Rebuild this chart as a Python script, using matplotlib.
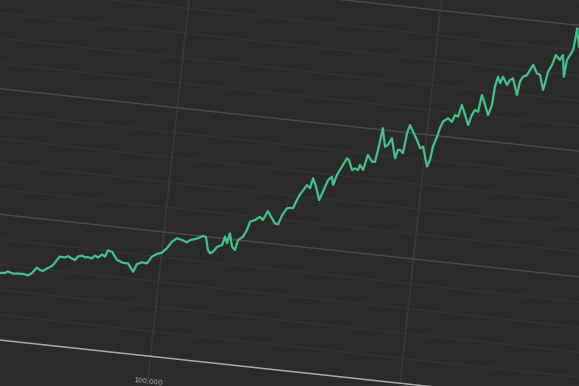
import matplotlib
matplotlib.use("Agg")
import matplotlib.pyplot as plt
from matplotlib.transforms import Affine2D

# hands played (thousands) and winnings
hands_k = [36.8, 38.8, 39.9, 42.0, 44.0, 46.0, 48.0, 49.5, 51.2, 52.5, 53.8, 55.2, 56.4, 57.5, 59.2, 59.9,
           61.9, 63.0, 64.7, 66.0, 67.0, 68.6, 69.8, 71.0, 72.6, 73.7, 75.0, 76.4, 77.7, 78.6,
           80.3, 82.6, 85.1, 87.1, 89.5, 90.7, 92.6, 94.6, 96.3, 98.2, 100.1, 101.9, 103.6, 105.5,
           107.5, 109.6, 110.7, 113.4, 115.7, 116.9,
           118.2, 119.2, 120.3, 121.7, 123.6, 124.4, 125.5, 126.2, 127.6, 128.9, 129.7, 131.5, 132.8,
           133.7, 135.6, 137.4, 138.7, 140.3, 142.2, 143.6, 144.9, 146.1, 147.7, 148.9, 150.1, 151.3,
           152.3, 154.7, 156.0, 156.8, 158.3, 160.1, 161.3, 162.8, 164.2, 165.0, 166.1, 167.7, 169.4,
           170.2, 171.9, 173.0, 174.2, 174.8, 176.2, 177.5, 179.4, 180.6, 181.3, 182.3, 183.9, 185.0,
           186.3, 188.4, 189.2,
           190.0, 191.3, 192.1, 192.9, 194.4, 196.3, 197.9, 199.0, 201.4, 202.3, 202.9, 204.1, 204.9,
           205.8, 207.7, 209.4, 210.3, 211.6, 212.6, 214.3, 215.9, 217.0, 218.0, 219.3, 220.1, 221.8, 223.4,
           224.5, 224.9, 225.7, 226.8, 227.7, 229.6, 230.6, 231.7, 234.0, 234.6, 235.6, 237.1, 238.1,
           239.1, 241.0, 242.3, 244.1, 244.6, 245.3, 246.6, 247.7, 249.5, 250.5, 251.8, 252.3, 253.3,
           254.3, 254.8, 255.0, 256.5]
winnings = [2670, 2690, 2760, 2700, 2720, 2730, 2690, 2800, 3040, 2960, 2930, 3050, 3120, 3210, 3490, 3580,
            3560, 3630, 3550, 3510, 3660, 3710, 3650, 3680, 3640, 3770, 3700, 3840, 3770, 4030,
            3990, 3690, 3600, 3600, 3290, 3610, 3700, 3680, 3970, 4100, 4170, 4370, 4650, 4810,
            4760, 4690, 4790, 4880, 5010, 4980,
            4470, 4350, 4430, 4640, 4730, 5080, 4820, 5230, 4710, 4590, 5000, 5150, 5440,
            5780, 5870, 6020, 5900, 6280, 6010, 5820, 5800, 6180, 6470, 6500, 6500, 6840,
            7080, 7480, 7370, 7780, 7460, 6940, 7290, 7770, 7920, 7600, 8010, 8360, 8720,
            8660, 8270, 8350, 8300, 8510, 8320, 8940, 8690, 8700, 9180, 10070, 9340, 9420,
            9710, 8920, 9270,
            9280, 9160, 9970, 10310, 10060, 9750, 9430, 9510, 8730, 9010, 9550, 9960, 10310,
            10590, 10740, 10620, 10900, 10850, 11330, 10950, 10560, 10980, 11190, 11130, 11810, 11430, 11040,
            11460, 12200, 12610, 12360, 12630, 12320, 12530, 12610, 11960, 12510, 12720, 12800, 13010,
            13230, 12910, 12860, 12280, 12550, 13020, 13310, 13720, 13540, 13750, 12890, 13570, 13780,
            13990, 14540, 14870, 14150]
hands = [h * 1000 for h in hands_k]

y_grid = list(range(1000, 17000, 1000))
y_major = list(range(5000, 17000, 5000))
x_grid = [0, 100000, 200000, 300000]
x_labels = {100000: "100,000"}

bg = "#2a2a2a"
fig = plt.figure(figsize=(5.79, 3.86), dpi=100, facecolor=bg)
ax = fig.add_axes([0, 0, 1, 1])
ax.set_facecolor(bg)
ax.set_xlim(0, 579)
ax.set_ylim(386, 0)
ax.axis("off")

# the screen is photographed slightly tilted
tilt = (Affine2D().translate(-100000, 0).scale(251 / 100000, -25 / 1000)
        .rotate_deg(6.16).translate(150.5, 356.3) + ax.transData)

for y in y_grid:
    col, lw = ("#4c4c4c", 1.0) if y in y_major else ("#343434", 0.9)
    ax.plot([-50000, 350000], [y, y], color=col, lw=lw, transform=tilt, zorder=1)
for x in x_grid:
    ax.plot([x, x], [-1000, 18000], color="#3b3b3b", lw=0.9, transform=tilt, zorder=1)
ax.plot([-50000, 350000], [0, 0], color="#a9a9a9", lw=1.1, transform=tilt, zorder=2)

for x, lab in x_labels.items():
    ax.text(x, -900, lab, transform=tilt, rotation=-6.16, rotation_mode="anchor",
            ha="center", va="top", fontsize=5, color="#b0b0b0")

ax.plot(hands, winnings, color="#43c28b", lw=1.6, transform=tilt, zorder=3,
        solid_joinstyle="round")

fig.savefig("out.png", dpi=100, facecolor=bg)
